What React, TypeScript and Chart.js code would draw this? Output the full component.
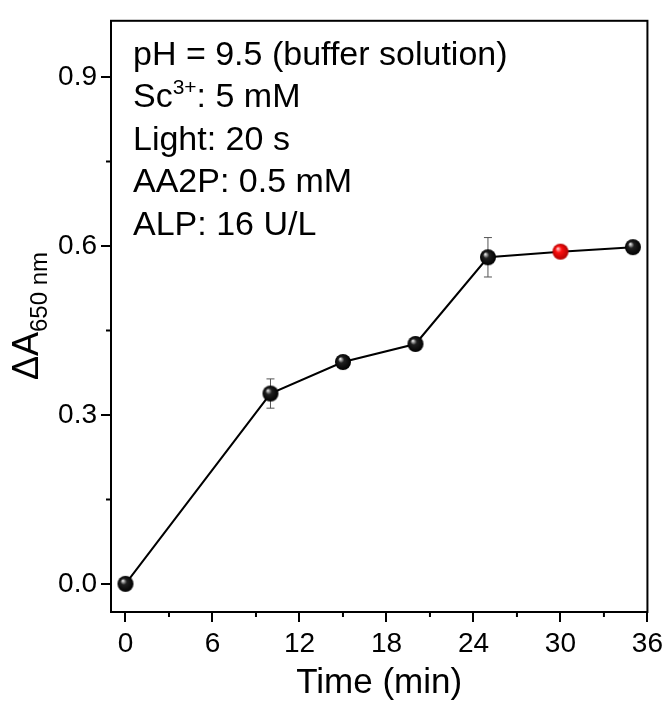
import React, { useEffect, useRef } from "react";
import { Chart, registerables } from "chart.js";

Chart.register(...registerables);

const timeMin = [0, 10, 15, 20, 25, 30, 35];
const deltaA = [0, 0.338, 0.394, 0.426, 0.58, 0.59, 0.598];
const errA = [0, 0.026, 0, 0, 0.035, 0, 0];
const redIndex = 5;
const xTicks = [0, 6, 12, 18, 24, 30, 36];
const xMinorTicks = [3, 9, 15, 21, 27, 33];
const yTicks = [0, 0.3, 0.6, 0.9];
const yMinorTicks = [0.15, 0.45, 0.75];
const noteLines = ["pH = 9.5 (buffer solution)", "Sc|3+|: 5 mM", "Light: 20 s", "AA2P: 0.5 mM", "ALP: 16 U/L"];

const FONT = '"Liberation Sans", Arial, sans-serif';

function sphere(base: string, mid: string, dark: string, r: number) {
  const c = document.createElement("canvas");
  const s = r * 2 + 2;
  c.width = s;
  c.height = s;
  const ctx = c.getContext("2d")!;
  const cx = s / 2, cy = s / 2;
  const g = ctx.createRadialGradient(cx - r * 0.35, cy - r * 0.4, r * 0.05, cx, cy, r);
  g.addColorStop(0, base);
  g.addColorStop(0.35, mid);
  g.addColorStop(1, dark);
  ctx.fillStyle = g;
  ctx.beginPath();
  ctx.arc(cx, cy, r, 0, Math.PI * 2);
  ctx.fill();
  return c;
}

export default function App() {
  const ref = useRef<HTMLCanvasElement>(null);
  useEffect(() => {
    document.body.style.margin = "0";
    const blackBall = sphere("#e8e8e8", "#202020", "#000000", 8);
    const redBall = sphere("#ffd0d0", "#ff1010", "#b00000", 8);
    const styles = timeMin.map((_, i) => (i === redIndex ? redBall : blackBall));

    const frame = {
      id: "frame",
      beforeDatasetsDraw(chart: any) {
        const { ctx, chartArea: a, scales } = chart;
        const xs = scales.x, ys = scales.y;
        ctx.save();
        ctx.strokeStyle = "#000";
        ctx.lineWidth = 2;
        ctx.strokeRect(a.left, a.top, a.right - a.left, a.bottom - a.top);
        ctx.beginPath();
        xMinorTicks.forEach((v) => {
          const x = xs.getPixelForValue(v);
          ctx.moveTo(x, a.bottom);
          ctx.lineTo(x, a.bottom + 5);
        });
        yMinorTicks.forEach((v) => {
          const y = ys.getPixelForValue(v);
          ctx.moveTo(a.left, y);
          ctx.lineTo(a.left - 5, y);
        });
        ctx.stroke();
        // error bars
        ctx.strokeStyle = "#555";
        ctx.lineWidth = 1;
        ctx.beginPath();
        timeMin.forEach((t, i) => {
          if (!errA[i]) return;
          const x = xs.getPixelForValue(t);
          const y1 = ys.getPixelForValue(deltaA[i] + errA[i]);
          const y2 = ys.getPixelForValue(deltaA[i] - errA[i]);
          ctx.moveTo(x, y1);
          ctx.lineTo(x, y2);
          ctx.moveTo(x - 4, y1);
          ctx.lineTo(x + 4, y1);
          ctx.moveTo(x - 4, y2);
          ctx.lineTo(x + 4, y2);
        });
        ctx.stroke();
        ctx.restore();
      },
      afterDraw(chart: any) {
        const { ctx, chartArea: a } = chart;
        ctx.save();
        ctx.fillStyle = "#000";
        ctx.textBaseline = "alphabetic";
        ctx.textAlign = "left";
        const big = `34px ${FONT}`;
        const small = `21px ${FONT}`;
        noteLines.forEach((line, i) => {
          const y = 65 + 42.4 * i;
          let x = a.left + 22;
          const parts = line.split("|");
          parts.forEach((p, k) => {
            if (k % 2 === 1) {
              ctx.font = small;
              ctx.fillText(p, x, y - 13);
            } else {
              ctx.font = big;
              ctx.fillText(p, x, y);
            }
            x += ctx.measureText(p).width;
          });
        });
        // y title
        ctx.translate(38, 316);
        ctx.rotate(-Math.PI / 2);
        ctx.font = `36px ${FONT}`;
        const w1 = ctx.measureText("ΔA").width;
        ctx.font = `24px ${FONT}`;
        const w2 = ctx.measureText("650 nm").width;
        const start = -(w1 + w2) / 2;
        ctx.font = `36px ${FONT}`;
        ctx.fillText("ΔA", start, 0);
        ctx.font = `24px ${FONT}`;
        ctx.fillText("650 nm", start + w1, 9);
        ctx.restore();
      },
    };

    const chart = new Chart(ref.current!, {
      type: "scatter",
      data: {
        datasets: [
          {
            data: timeMin.map((t, i) => ({ x: t, y: deltaA[i] })),
            showLine: true,
            borderColor: "#000",
            borderWidth: 2,
            pointStyle: styles as any,
            pointRadius: 8,
          },
        ],
      },
      options: {
        animation: false,
        responsive: false,
        layout: { padding: { top: 16, right: 20, left: 0, bottom: 0 } },
        plugins: { legend: { display: false }, tooltip: { enabled: false } },
        scales: {
          x: {
            type: "linear",
            min: -1,
            max: 36,
            afterBuildTicks: (s: any) => {
              s.ticks = xTicks.map((v) => ({ value: v }));
            },
            afterFit: (s: any) => {
              s.height = 97;
            },
            grid: { drawOnChartArea: false, drawTicks: true, tickLength: 10, color: "#000", lineWidth: 2 },
            border: { display: true, color: "#000", width: 2 },
            ticks: { color: "#000", font: { family: FONT, size: 28 }, padding: 5, maxRotation: 0 },
            title: { display: true, text: "Time (min)", color: "#000", font: { family: FONT, size: 35 }, padding: { top: 0, bottom: 5 } },
          },
          y: {
            type: "linear",
            min: -0.05,
            max: 1.0,
            afterBuildTicks: (s: any) => {
              s.ticks = yTicks.map((v) => ({ value: v }));
            },
            afterFit: (s: any) => {
              s.width = 111;
            },
            grid: { drawOnChartArea: false, drawTicks: true, tickLength: 10, color: "#000", lineWidth: 2 },
            border: { display: true, color: "#000", width: 2 },
            ticks: { color: "#000", font: { family: FONT, size: 28 }, padding: 4, callback: (v: any) => Number(v).toFixed(1) },
          },
        },
      },
      plugins: [frame],
    });
    return () => chart.destroy();
  }, []);
  return (
    <div style={{ position: "fixed", left: 0, top: 0, width: 668, height: 709, background: "#fff" }}>
      <canvas ref={ref} width={668} height={709} />
    </div>
  );
}
